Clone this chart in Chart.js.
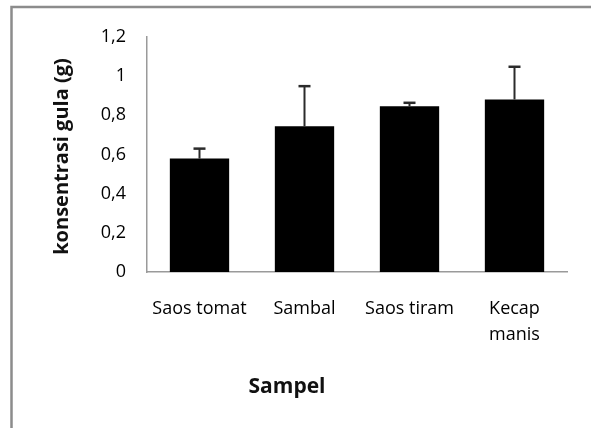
<!DOCTYPE html>
<html>
<head>
<meta charset="utf-8">
<script src="https://cdn.jsdelivr.net/npm/chart.js@4"></script>
<style>
  html, body { margin: 0; padding: 0; background: #fff; }
  #wrap { position: relative; width: 591px; height: 428px; }
  canvas { display: block; }
</style>
</head>
<body>
<div id="wrap"><canvas id="chart" width="591" height="428"></canvas></div>
<script>
// Data
const categories = ["Saos tomat", "Sambal", "Saos tiram", ["Kecap", "manis"]]
const sugar = [0.579, 0.744, 0.846, 0.881]
const sugarErr = [0.051, 0.205, 0.018, 0.167]
const yTicks = [0, 0.2, 0.4, 0.6, 0.8, 1, 1.2]

const FONT = "'Open Sans', sans-serif"

// Frame around the whole picture (left and top edges only are visible)
const framePlugin = {
  id: "frame",
  beforeDraw(chart) {
    const ctx = chart.ctx
    ctx.save()
    ctx.strokeStyle = "#8c8c8c"
    ctx.lineWidth = 2.5
    ctx.beginPath()
    ctx.moveTo(11.5, chart.height)
    ctx.lineTo(11.5, 7)
    ctx.lineTo(chart.width, 7)
    ctx.stroke()
    ctx.restore()
  }
}

// Upper error bars, positioned through the chart scales
const errorBarPlugin = {
  id: "errorBars",
  afterDatasetsDraw(chart) {
    const ctx = chart.ctx
    const y = chart.scales.y
    const meta = chart.getDatasetMeta(0)
    ctx.save()
    ctx.strokeStyle = "#2b2b2b"
    meta.data.forEach((bar, i) => {
      const top = y.getPixelForValue(sugar[i] + sugarErr[i])
      ctx.lineWidth = 2
      ctx.beginPath()
      ctx.moveTo(bar.x, bar.y)
      ctx.lineTo(bar.x, top)
      ctx.stroke()
      ctx.lineWidth = 2.5
      ctx.beginPath()
      ctx.moveTo(bar.x - 6, top)
      ctx.lineTo(bar.x + 6, top)
      ctx.stroke()
    })
    ctx.restore()
  }
}

// Axis titles placed like the original (x title sits left of plot centre)
const titlesPlugin = {
  id: "axisTitles",
  afterDraw(chart) {
    const ctx = chart.ctx
    const area = chart.chartArea
    ctx.save()
    ctx.fillStyle = "#111"
    ctx.textAlign = "center"
    ctx.textBaseline = "middle"
    ctx.font = "bold 21px " + FONT
    ctx.fillText("Sampel", 287, 387)
    ctx.translate(62, (area.top + area.bottom) / 2 + 2)
    ctx.rotate(-Math.PI / 2)
    ctx.font = "bold 20px " + FONT
    ctx.fillText("konsentrasi gula (g)", 0, 0)
    ctx.restore()
  }
}

new Chart(document.getElementById("chart"), {
  type: "bar",
  data: {
    labels: categories,
    datasets: [{
      data: sugar,
      backgroundColor: "#000",
      borderWidth: 0,
      categoryPercentage: 1,
      barPercentage: 0.565
    }]
  },
  plugins: [framePlugin, errorBarPlugin, titlesPlugin],
  options: {
    responsive: false,
    animation: false,
    layout: { padding: { left: 0, right: 24, top: 37, bottom: 0 } },
    plugins: { legend: { display: false }, tooltip: { enabled: false } },
    scales: {
      x: {
        grid: { display: false, drawTicks: false },
        border: { color: "#9a9a9a", width: 1.5 },
        ticks: {
          color: "#000",
          font: { family: FONT, size: 18, lineHeight: 1.45 },
          padding: 24,
          maxRotation: 0,
          autoSkip: false
        },
        afterFit: s => { s.height = 156 }
      },
      y: {
        min: 0,
        max: 1.2,
        grid: { display: false, drawTicks: false },
        border: { color: "#9a9a9a", width: 1.5 },
        afterBuildTicks: s => { s.ticks = yTicks.map(v => ({ value: v })) },
        ticks: {
          color: "#000",
          font: { family: FONT, size: 18 },
          padding: 21,
          callback: v => String(Math.round(v * 10) / 10).replace(".", ",")
        },
        afterFit: s => { s.width = 147 }
      }
    }
  }
})
</script>
</body>
</html>
